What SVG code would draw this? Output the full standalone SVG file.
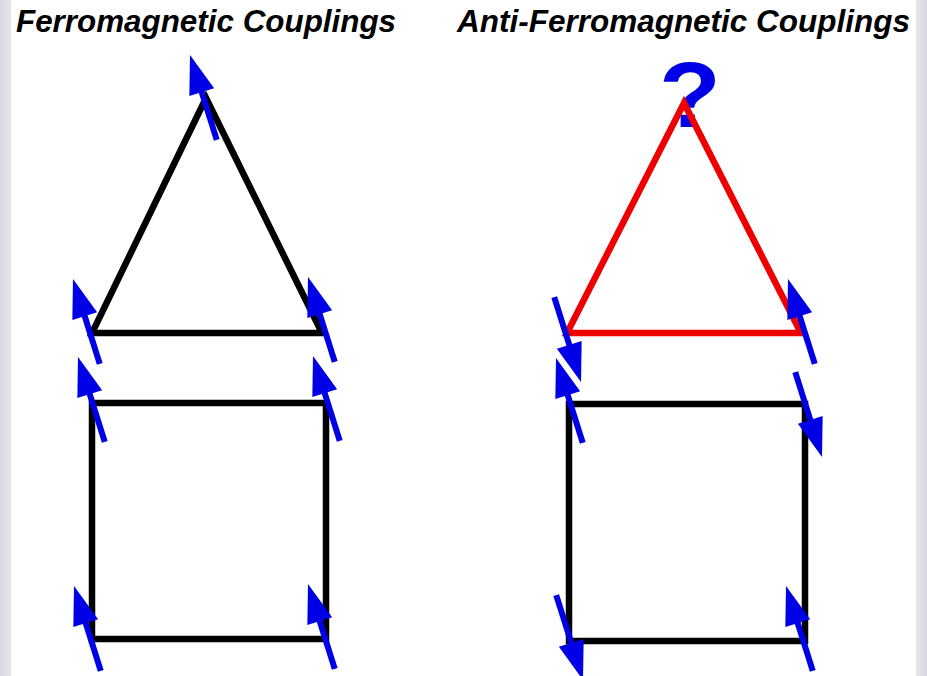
<svg xmlns="http://www.w3.org/2000/svg" xmlns:xlink="http://www.w3.org/1999/xlink" width="927" height="676" viewBox="0 0 927 676">
<style>
.title{font-family:"Liberation Sans",Arial,sans-serif;font-weight:bold;font-style:italic;font-size:32px;fill:#000}
.edge{fill:none;stroke:#000;stroke-width:6.5;stroke-linejoin:miter}
.red{fill:none;stroke:#ee0000;stroke-width:6.5}
.q{font-family:"Liberation Sans",Arial,sans-serif;font-weight:bold;font-size:92px;fill:#0000e6}
</style>
<defs>
<g id="spin">
<line x1="0" y1="30" x2="0" y2="89" stroke="#0000e6" stroke-width="6"/>
<polygon points="0,0 13,39 -13,39" fill="#0000e6"/>
</g>
<linearGradient id="bl" x1="0" x2="1" y1="0" y2="0">
<stop offset="0" stop-color="#d6d6de"/><stop offset="1" stop-color="#e6e6ec"/>
</linearGradient>
<linearGradient id="br" x1="0" x2="1" y1="0" y2="0">
<stop offset="0" stop-color="#e6e6ec"/><stop offset="1" stop-color="#d6d6de"/>
</linearGradient>
</defs>
<rect width="927" height="676" fill="#ffffff"/>
<rect x="0" y="0" width="11" height="676" fill="url(#bl)"/>
<rect x="916" y="0" width="11" height="676" fill="url(#br)"/>
<text class="title" x="16" y="32" textLength="380" lengthAdjust="spacingAndGlyphs">Ferromagnetic Couplings</text>
<text class="title" x="457" y="32" textLength="453" lengthAdjust="spacingAndGlyphs">Anti-Ferromagnetic Couplings</text>
<g id="question">
<text class="q" x="690" y="127" text-anchor="middle" transform="translate(690,127) scale(1.1,1) translate(-690,-127)">?</text>
</g>
<g id="connectors">
<polygon class="edge" points="206,98 92,333 322,333"/>
<rect class="edge" x="92" y="403" width="234" height="236"/>
<rect class="edge" x="569" y="404" width="236" height="237"/>
</g>
<g id="red-triangle">
<polygon class="red" points="684,103 567,333 801,333"/>
</g>
<g id="ferro-spins">
<use xlink:href="#spin" transform="translate(190,55) rotate(-17.5)"/>
<use xlink:href="#spin" transform="translate(73,279) rotate(-17.5)"/>
<use xlink:href="#spin" transform="translate(308,277) rotate(-17.5)"/>
<use xlink:href="#spin" transform="translate(78,357) rotate(-17.5)"/>
<use xlink:href="#spin" transform="translate(313,356) rotate(-17.5)"/>
<use xlink:href="#spin" transform="translate(74,586) rotate(-17.5)"/>
<use xlink:href="#spin" transform="translate(308,584) rotate(-17.5)"/>
</g>
<g id="anti-spins">
<use xlink:href="#spin" transform="translate(788,279) rotate(-17.5)"/>
<use xlink:href="#spin" transform="translate(822,457) rotate(162.5)"/>
<use xlink:href="#spin" transform="translate(581,382) rotate(162.5)"/>
<line x1="559" y1="364" x2="580" y2="389" stroke="#ffffff" stroke-width="3"/>
<use xlink:href="#spin" transform="translate(556,358) rotate(-17.5)"/>
<use xlink:href="#spin" transform="translate(583,680) rotate(162.5)"/>
<use xlink:href="#spin" transform="translate(786,586) rotate(-17.5)"/>
</g>
</svg>
